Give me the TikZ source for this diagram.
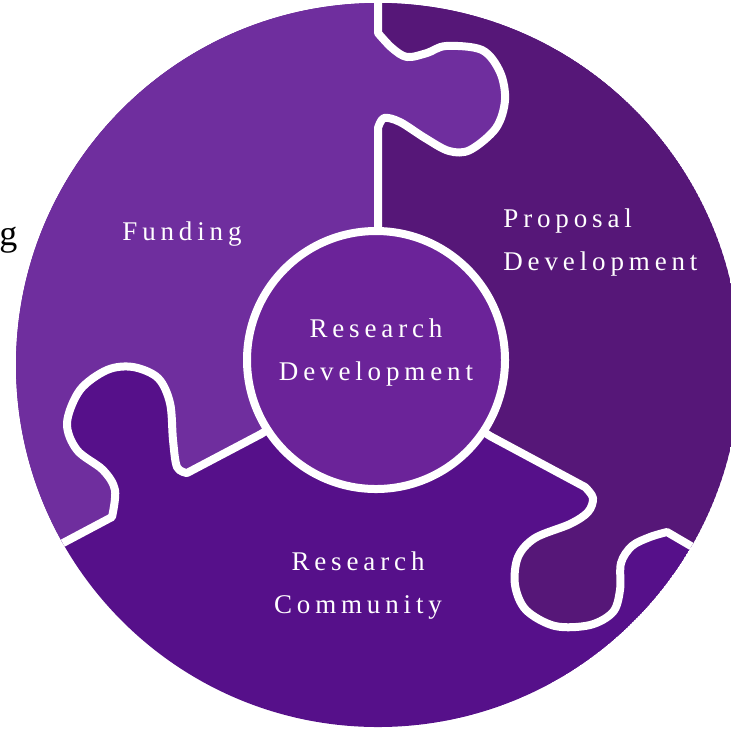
\documentclass[tikz,border=0pt]{standalone}
\usepackage{fontspec}
\setmainfont{Liberation Serif}
\newfontfamily\spaced[LetterSpace=18]{Liberation Serif}
\usepackage{tikz}
\usetikzlibrary{backgrounds}
\usetikzlibrary{calc}

\definecolor{funding}{RGB}{111,46,158}
\definecolor{proposal}{RGB}{86,23,120}
\definecolor{community}{RGB}{86,16,138}
\definecolor{hub}{RGB}{107,35,153}

% knobs of the puzzle pieces
\def\knobA{(378,33) (392,48) (407,57) (427,53) (446,46) (482,50) (500,72) (505,100) (496,128) (470,150) (449,151) (425,138) (400,122) (384,118) (378,128)}
\def\knobB{(585,487) (593,498) (588,512) (570,524) (535,538) (518,557) (515,585) (526,610) (555,626) (590,625) (613,612) (620,590) (621,563) (632,546) (650,537) (667,532)}
\def\knobC{(187,473) (177,467) (173,440) (170,403) (158,378) (133,367) (107,370) (80,390) (67,423) (77,450) (103,470) (115,490) (112,517)}

\begin{document}
\begin{tikzpicture}[x=0.5pt,y=-0.5pt,
  seam/.style={draw=white,line width=4pt,line join=round,line cap=round},
  lbl/.style={text=white,font=\spaced\fontsize{13.5}{21.5}\selectfont,inner sep=0pt}]
\useasboundingbox (0,0) rectangle (731,730);
\coordinate (c) at (378,365);
\begin{scope}
\clip (c) circle[radius=362];
\fill[community] (c) circle[radius=362];
% funding
\fill[funding] (378,-20) -- plot[smooth,tension=0.55] coordinates {\knobA} -- (378,360) -- (261,434)
  -- plot[smooth,tension=0.55] coordinates {\knobC} -- (63,543) -- (20,567) -- (-20,567) -- (-20,-20) -- cycle;
% proposal development
\fill[proposal] (378,-20) -- plot[smooth,tension=0.55] coordinates {\knobA} -- (378,360) -- (490,436)
  -- plot[smooth,tension=0.55] coordinates {\knobB} -- (720,563) -- (760,563) -- (760,-20) -- cycle;
% white seams
\draw[seam] (378,-20) -- plot[smooth,tension=0.55] coordinates {\knobA} -- (378,300);
\draw[seam] (376,360) -- (261,434) -- plot[smooth,tension=0.55] coordinates {\knobC} -- (63,543) -- (20,567);
\draw[seam] (376,360) -- (490,436) -- plot[smooth,tension=0.55] coordinates {\knobB} -- (720,563);
\end{scope}
\node[circle,fill=hub,draw=white,line width=4pt,minimum size=129pt,inner sep=0pt,outer sep=0pt] (hub) at (376,360) {};

\node[lbl,anchor=base,align=center] (fund) at (182,240) {Funding};
\node[lbl,anchor=base west,align=left] (prop) at (503,270) {Proposal\\Development};
\node[lbl,anchor=base,align=center] (comm) at (358,613) {Research\\Community};
\node[lbl,anchor=base,align=center] (rdev) at (376,380) {Research\\Development};
\node[anchor=base west,inner sep=0pt,font=\fontsize{18}{20}\selectfont] (frag) at (-1,245) {g};
\end{tikzpicture}
\end{document}
